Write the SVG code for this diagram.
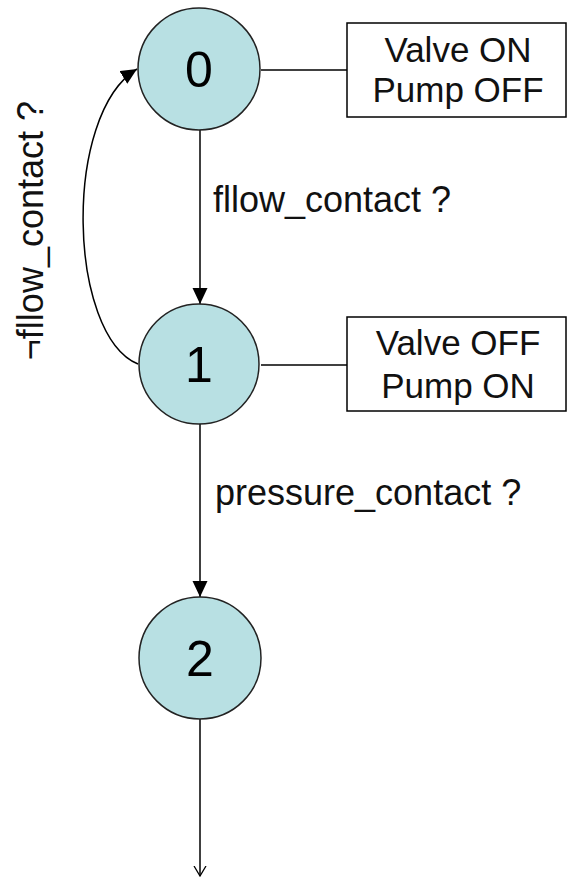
<svg xmlns="http://www.w3.org/2000/svg" width="567" height="877" viewBox="0 0 567 877">
<style>
.st{fill:#b8e0e3;stroke:#222;stroke-width:1.5}
.num{font-family:"Liberation Sans",Arial,sans-serif;font-size:50px;fill:#000;text-anchor:middle}
.lbl{font-family:"Liberation Sans",Arial,sans-serif;font-size:35px;fill:#111}
.lbl2{font-family:"Liberation Sans",Arial,sans-serif;font-size:36px;fill:#111}
.box{fill:#fff;stroke:#000;stroke-width:1.5}
.ln{fill:none;stroke:#000;stroke-width:1.5}
</style>
<defs>
<marker id="ah" markerWidth="17" markerHeight="16" refX="16" refY="7.5" orient="auto" markerUnits="userSpaceOnUse">
<path d="M0,0 L16,7.5 L0,15 Z" fill="#000"/>
</marker>
<marker id="oh" markerWidth="12" markerHeight="14" refX="10" refY="6.5" orient="auto" markerUnits="userSpaceOnUse">
<path d="M0,0.5 L10,6.5 L0,12.5" fill="none" stroke="#000" stroke-width="1.3"/>
</marker>
</defs>
<g id="connectors">
<line class="ln" x1="200" y1="130" x2="200" y2="304" marker-end="url(#ah)"/>
<line class="ln" x1="200" y1="424" x2="200" y2="597" marker-end="url(#ah)"/>
<line class="ln" x1="200" y1="719" x2="200" y2="876" marker-end="url(#oh)"/>
<path class="ln" d="M138,364 C68,335 62,115 137,69" marker-end="url(#ah)"/>
<line class="ln" x1="261" y1="70" x2="347" y2="70" stroke="#333"/>
<line class="ln" x1="261" y1="365" x2="347" y2="365"/>
<text class="lbl2" x="213" y="212">fllow_contact ?</text>
<text class="lbl2" x="215" y="505">pressure_contact ?</text>
<text class="lbl2" transform="translate(43,101) rotate(-90)" text-anchor="end">¬fllow_contact ?</text>
</g>
<g id="s0">
<circle class="st" cx="199" cy="69" r="61"/>
<text class="num" x="199" y="87">0</text>
</g>
<g id="s1">
<circle class="st" cx="199" cy="364" r="60"/>
<text class="num" x="199" y="382">1</text>
</g>
<g id="s2">
<circle class="st" cx="200" cy="658" r="61"/>
<text class="num" x="200" y="676">2</text>
</g>
<g id="box0">
<rect class="box" x="347" y="23" width="219" height="94"/>
<text class="lbl" x="458" y="62" text-anchor="middle">Valve ON</text>
<text class="lbl" x="458" y="102" text-anchor="middle">Pump OFF</text>
</g>
<g id="box1">
<rect class="box" x="347" y="317" width="219" height="94"/>
<text class="lbl" x="458" y="355" text-anchor="middle">Valve OFF</text>
<text class="lbl" x="458" y="398" text-anchor="middle">Pump ON</text>
</g>
</svg>
